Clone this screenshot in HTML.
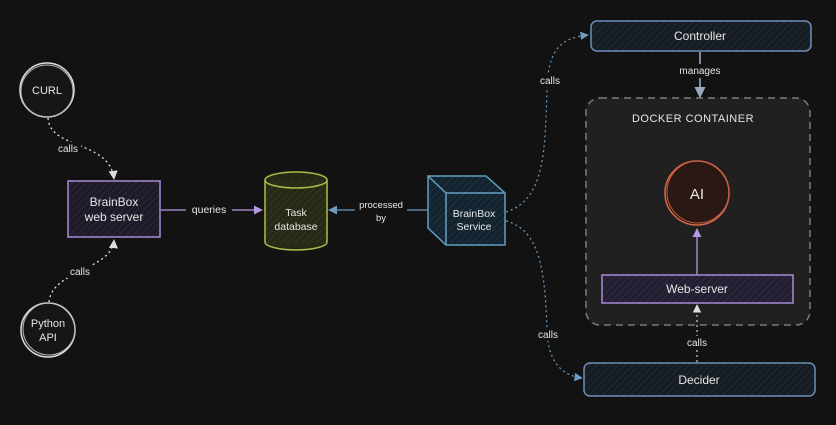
<!DOCTYPE html>
<html><head><meta charset="utf-8"><style>
html,body{margin:0;padding:0;background:#121212;width:836px;height:425px;overflow:hidden}
svg{display:block}
text{font-family:"Liberation Sans",sans-serif;fill:#e6e6e6}
</style></head><body>
<svg width="836" height="425" viewBox="0 0 836 425" xmlns="http://www.w3.org/2000/svg">
<defs>
<pattern id="h" width="5" height="5" patternUnits="userSpaceOnUse" patternTransform="rotate(45)">
<line x1="0" y1="0" x2="0" y2="5" stroke="#ffffff" stroke-opacity="0.08" stroke-width="1.5"/></pattern>
<marker id="a" viewBox="0 0 10 10" refX="9" refY="5" markerWidth="7" markerHeight="7" orient="auto-start-reverse"><path d="M0,0 L10,5 L0,10 z" fill="context-stroke" stroke="none"/></marker>
<marker id="aw" viewBox="0 0 10 10" refX="9" refY="5" markerWidth="7" markerHeight="7" orient="auto"><path d="M0,0 L10,5 L0,10 z" fill="#ddd"/></marker>
<marker id="ab" viewBox="0 0 10 10" refX="9" refY="5" markerWidth="7" markerHeight="7" orient="auto"><path d="M0,0 L10,5 L0,10 z" fill="#6d9cc0"/></marker>
<marker id="ap" viewBox="0 0 10 10" refX="9" refY="5" markerWidth="7" markerHeight="7" orient="auto"><path d="M0,0 L10,5 L0,10 z" fill="#b598e8"/></marker>
<marker id="as" viewBox="0 0 10 10" refX="9" refY="5" markerWidth="7" markerHeight="7" orient="auto"><path d="M0,0 L10,5 L0,10 z" fill="#9ab"/></marker>
</defs>

<!-- docker container -->
<rect x="586" y="98" width="224" height="227" rx="14" fill="#202020" stroke="#7a7a7a" stroke-width="1.5" stroke-dasharray="7 5"/>
<text x="693" y="122" font-size="11" text-anchor="middle" fill="#cfcfcf" letter-spacing="0.5">DOCKER CONTAINER</text>

<!-- CURL -->
<circle cx="47" cy="90" r="27" fill="#161616" stroke="#ddd" stroke-width="1.5"/>
<circle cx="47" cy="91" r="26" fill="none" stroke="#bbb" stroke-width="1"/>
<text x="47" y="94" font-size="11" text-anchor="middle">CURL</text>
<!-- Python API -->
<circle cx="48" cy="330" r="27" fill="#161616" stroke="#ddd" stroke-width="1.5"/>
<circle cx="49" cy="329" r="26" fill="none" stroke="#bbb" stroke-width="1"/>
<text x="48" y="327" font-size="11" text-anchor="middle">Python</text>
<text x="48" y="341" font-size="11" text-anchor="middle">API</text>

<!-- calls arrows -->
<path d="M48,118 C50,150 110,140 114,179" fill="none" stroke="#ddd" stroke-width="1.3" stroke-dasharray="2 3" marker-end="url(#aw)"/>
<rect x="55" y="142" width="26" height="13" fill="#121212"/>
<text x="68" y="152" font-size="10" text-anchor="middle">calls</text>
<path d="M49,302 C52,270 112,270 114,240" fill="none" stroke="#ddd" stroke-width="1.3" stroke-dasharray="2 3" marker-end="url(#aw)"/>
<rect x="67" y="265" width="26" height="13" fill="#121212"/>
<text x="80" y="275" font-size="10" text-anchor="middle">calls</text>

<!-- BrainBox web server -->
<rect x="68" y="181" width="92" height="56" fill="#1e1a2a" stroke="#a98ad8" stroke-width="1.5"/>
<rect x="68" y="181" width="92" height="56" fill="url(#h)"/>
<text x="114" y="206" font-size="12" text-anchor="middle">BrainBox</text>
<text x="114" y="221" font-size="12" text-anchor="middle">web server</text>

<!-- queries -->
<line x1="161" y1="210" x2="262" y2="210" stroke="#b598e8" stroke-width="1.3" marker-end="url(#ap)"/>
<rect x="186" y="202" width="46" height="14" fill="#121212"/>
<text x="209" y="213" font-size="10.5" text-anchor="middle">queries</text>

<!-- Task database -->
<path d="M265,180 L265,242 A31,8 0 0 0 327,242 L327,180" fill="#262a14" stroke="#a9bd48" stroke-width="1.5"/>
<ellipse cx="296" cy="180" rx="31" ry="8" fill="#262a14" stroke="#a9bd48" stroke-width="1.5"/>
<rect x="265" y="180" width="62" height="64" fill="url(#h)"/>
<text x="296" y="216" font-size="10.5" text-anchor="middle">Task</text>
<text x="296" y="230" font-size="10.5" text-anchor="middle">database</text>

<!-- processed by -->
<line x1="428" y1="210" x2="329" y2="210" stroke="#6d9cc0" stroke-width="1.3" marker-end="url(#ab)"/>
<rect x="355" y="198" width="52" height="28" fill="#121212"/>
<text x="381" y="208" font-size="9.5" text-anchor="middle">processed</text>
<text x="381" y="221" font-size="9.5" text-anchor="middle">by</text>

<!-- BrainBox Service cube -->
<path d="M428,176 L486,176 L505,193 L505,245 L446,245 L428,228 Z" fill="#132430" stroke="#5f9ec0" stroke-width="1.5"/>
<path d="M428,176 L446,193 L505,193 M446,193 L446,245" fill="none" stroke="#5f9ec0" stroke-width="1.5"/>
<path d="M428,176 L486,176 L505,193 L505,245 L446,245 L428,228 Z" fill="url(#h)"/>
<text x="474" y="217" font-size="10.5" text-anchor="middle">BrainBox</text>
<text x="474" y="230" font-size="10.5" text-anchor="middle">Service</text>

<!-- calls to controller / decider -->
<path d="M506,212 C545,200 545,150 547,90 C548,50 560,38 588,35" fill="none" stroke="#6d9cc0" stroke-width="1.2" stroke-dasharray="2 3" marker-end="url(#ab)"/>
<rect x="538" y="74" width="24" height="13" fill="#121212"/>
<text x="550" y="84" font-size="10" text-anchor="middle">calls</text>
<path d="M506,221 C540,230 545,270 547,330 C548,360 560,375 582,378" fill="none" stroke="#6d9cc0" stroke-width="1.2" stroke-dasharray="2 3" marker-end="url(#ab)"/>
<rect x="536" y="328" width="24" height="13" fill="#121212"/>
<text x="548" y="338" font-size="10" text-anchor="middle">calls</text>

<!-- Controller -->
<rect x="591" y="21" width="220" height="30" rx="6" fill="#161c24" stroke="#6b8fb5" stroke-width="1.5"/>
<rect x="591" y="21" width="220" height="30" rx="6" fill="url(#h)"/>
<text x="700" y="40" font-size="12" text-anchor="middle">Controller</text>

<!-- manages -->
<line x1="700" y1="52" x2="700" y2="97" stroke="#9ab" stroke-width="1.6" marker-end="url(#as)"/>
<rect x="677" y="64" width="46" height="14" fill="#121212"/>
<text x="700" y="74" font-size="10" text-anchor="middle">manages</text>

<!-- AI -->
<circle cx="697" cy="193" r="32" fill="#2a1815" stroke="#d9694a" stroke-width="1.5"/>
<circle cx="698" cy="192" r="31" fill="none" stroke="#c45c40" stroke-width="1"/>
<text x="697" y="199" font-size="15" text-anchor="middle" fill="#e8765a">AI</text>

<line x1="697" y1="275" x2="697" y2="229" stroke="#b598e8" stroke-width="1.3" marker-end="url(#ap)"/>

<!-- Web-server -->
<rect x="602" y="275" width="191" height="28" fill="#241e33" stroke="#a98ad8" stroke-width="1.5"/>
<rect x="602" y="275" width="191" height="28" fill="url(#h)"/>
<text x="697" y="293" font-size="12" text-anchor="middle">Web-server</text>

<!-- calls decider -> web-server -->
<line x1="697" y1="362" x2="697" y2="305" stroke="#ccc" stroke-width="1.2" stroke-dasharray="2 3" marker-end="url(#aw)"/>
<rect x="684" y="336" width="26" height="13" fill="#121212"/>
<text x="697" y="346" font-size="10" text-anchor="middle">calls</text>

<!-- Decider -->
<rect x="584" y="363" width="231" height="33" rx="6" fill="#161c24" stroke="#6b8fb5" stroke-width="1.5"/>
<rect x="584" y="363" width="231" height="33" rx="6" fill="url(#h)"/>
<text x="699" y="384" font-size="12" text-anchor="middle">Decider</text>
</svg>
</body></html>
